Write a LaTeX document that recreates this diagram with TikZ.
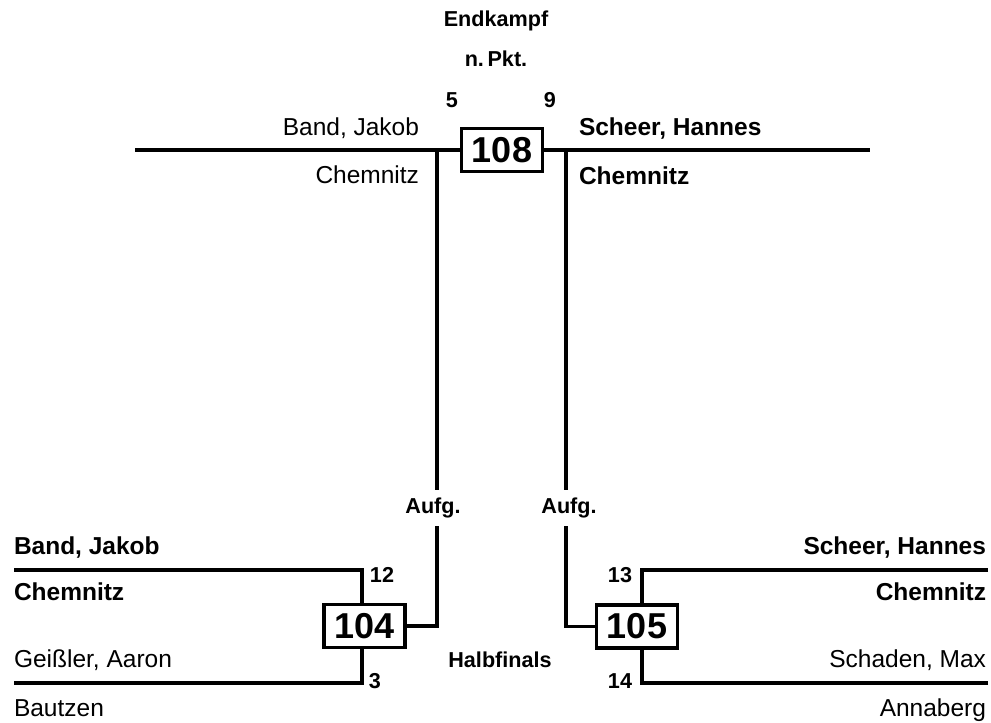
\documentclass[tikz,border=0pt]{standalone}
\usepackage{fontspec}
\setmainfont{Liberation Sans}
\usetikzlibrary{positioning}

\begin{document}
\begin{tikzpicture}[
        x=0.5pt, y=-0.5pt,
        every node/.style={ inner sep=0pt, outer sep=0pt },
        plain/.style={ font=\fontsize{12.25}{14}\selectfont },
        strong/.style={ font=\fontsize{12.25}{14}\selectfont\bfseries },
        small/.style={ font=\fontsize{10.8}{13}\selectfont\bfseries },
        matchbox/.style={ draw, line width=1.6pt, minimum width=40.5pt, minimum height=21.5pt,
                          font=\fontsize{18}{20}\selectfont\bfseries },
        wire/.style={ line width=1.6pt }
    ]
    \useasboundingbox (0,0) rectangle (991,723);

    % Endkampf
    \node[small, anchor=base] (endkampf) at (496,26) {Endkampf};
    \node[small, anchor=base] (npkt) at (496,66) {n.\,Pkt.};
    \node[small, anchor=base] (s5) at (452,107) {5};
    \node[small, anchor=base] (s9) at (550,107) {9};
    \node[matchbox] (final) at (502,150) {108};
    \node[plain, anchor=base east] (fa) at (419,135) {Band, Jakob};
    \node[plain, anchor=base east] (fac) at (419,183) {Chemnitz};
    \node[strong, anchor=base west] (fb) at (579,135) {Scheer, Hannes};
    \node[strong, anchor=base west] (fbc) at (579,184) {Chemnitz};

    % Halbfinal 104
    \node[matchbox] (semi1) at (364.5,626) {104};
    \node[strong, anchor=base west] (ha) at (14,554) {Band, Jakob};
    \node[strong, anchor=base west] (hac) at (14,600) {Chemnitz};
    \node[plain, anchor=base west] (hb) at (14,667) {Geißler, Aaron};
    \node[plain, anchor=base west] (hbc) at (14,716) {Bautzen};
    \node[small, anchor=base] (s12) at (382,582) {12};
    \node[small, anchor=base] (s3) at (375,688) {3};
    \node[small, minimum height=18pt] (aufgL) at (433,508) {Aufg.};

    % Halbfinal 105
    \node[matchbox] (semi2) at (637,626.5) {105};
    \node[strong, anchor=base east] (hc) at (986,554) {Scheer, Hannes};
    \node[strong, anchor=base east] (hcc) at (986,600) {Chemnitz};
    \node[plain, anchor=base east] (hd) at (986,667) {Schaden, Max};
    \node[plain, anchor=base east] (hdc) at (986,716) {Annaberg};
    \node[small, anchor=base] (s13) at (620,582) {13};
    \node[small, anchor=base] (s14) at (620,688) {14};
    \node[small, minimum height=18pt] (aufgR) at (569,508) {Aufg.};

    \node[small, anchor=base] (halbfinals) at (500,667) {Halbfinals};

    % lines
    \coordinate (tl) at (135,150);
    \coordinate (tr) at (870,150);
    \coordinate (jl) at (437,150);
    \coordinate (jr) at (566,150);
    \draw[wire] (tl) -- (final.west);
    \draw[wire] (final.east) -- (tr);
    \draw[wire] (jl) -- (jl |- aufgL.north);
    \draw[wire] (aufgL.south -| jl) |- (semi1.east);
    \draw[wire] (jr) -- (jr |- aufgR.north);
    \draw[wire] (aufgR.south -| jr) |- (semi2.west);

    \coordinate (la1) at (14,570);
    \coordinate (la2) at (362,570);
    \coordinate (lb1) at (14,683);
    \coordinate (lb2) at (362,683);
    \draw[wire] (la1) -- (la2) -- (la2 |- semi1.north);
    \draw[wire] (lb1) -- (lb2) -- (lb2 |- semi1.south);

    \coordinate (ra1) at (988,570);
    \coordinate (ra2) at (642,570);
    \coordinate (rb1) at (988,683);
    \coordinate (rb2) at (642,683);
    \draw[wire] (ra1) -- (ra2) -- (ra2 |- semi2.north);
    \draw[wire] (rb1) -- (rb2) -- (rb2 |- semi2.south);
\end{tikzpicture}
\end{document}
